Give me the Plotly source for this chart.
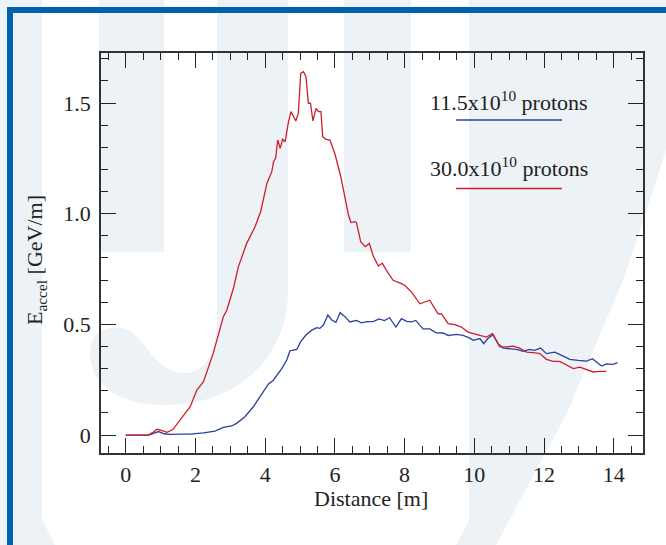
import plotly.graph_objects as go

# ---------------- data ----------------
x_low = [0.0, 0.3, 0.65, 0.8, 0.94, 1.1, 1.27, 1.6, 1.85, 2.23, 2.56, 2.8, 3.04, 3.18,
         3.42, 3.66, 3.85, 4.09, 4.24, 4.48, 4.62, 4.71, 4.81, 4.91, 5.02, 5.17, 5.34,
         5.48, 5.57, 5.67, 5.80, 5.91, 6.03, 6.15, 6.29, 6.43, 6.62, 6.76, 6.92, 7.11,
         7.27, 7.42, 7.57, 7.75, 7.91, 8.06, 8.20, 8.32, 8.53, 8.72, 8.91, 9.10, 9.25,
         9.49, 9.68, 9.87, 9.97, 10.16, 10.27, 10.39, 10.54, 10.68, 10.83, 11.02, 11.21,
         11.40, 11.59, 11.73, 11.90, 12.07, 12.31, 12.55, 12.74, 12.98, 13.22, 13.39,
         13.50, 13.65, 13.79, 13.98, 14.11]
e_low = [0.0, 0.0, 0.0, 0.008, 0.016, 0.006, 0.003, 0.004, 0.004, 0.010, 0.018, 0.035,
         0.041, 0.053, 0.083, 0.128, 0.173, 0.230, 0.249, 0.301, 0.339, 0.381, 0.384,
         0.387, 0.422, 0.452, 0.474, 0.485, 0.482, 0.497, 0.542, 0.520, 0.509, 0.553,
         0.535, 0.511, 0.518, 0.507, 0.512, 0.514, 0.525, 0.517, 0.530, 0.488, 0.526,
         0.514, 0.511, 0.518, 0.480, 0.480, 0.462, 0.461, 0.450, 0.455, 0.450, 0.438,
         0.428, 0.436, 0.413, 0.436, 0.453, 0.413, 0.393, 0.390, 0.387, 0.378, 0.387,
         0.383, 0.393, 0.368, 0.375, 0.357, 0.342, 0.337, 0.334, 0.345, 0.330, 0.312,
         0.322, 0.319, 0.327]

x_high = [0.0, 0.3, 0.65, 0.78, 0.89, 1.0, 1.18, 1.35, 1.56, 1.85, 2.04, 2.23, 2.51, 2.80,
          2.90, 3.09, 3.23, 3.33, 3.47, 3.71, 3.87, 4.05, 4.19, 4.24, 4.30, 4.36, 4.43,
          4.50, 4.57, 4.67, 4.74, 4.88, 4.95, 5.02, 5.10, 5.17, 5.24, 5.30, 5.37, 5.46,
          5.53, 5.60, 5.65, 5.75, 5.86, 6.01, 6.17, 6.39, 6.46, 6.58, 6.62, 6.74, 6.87,
          6.99, 7.10, 7.25, 7.36, 7.47, 7.58, 7.67, 7.91, 8.01, 8.20, 8.44, 8.72, 8.96,
          9.06, 9.25, 9.44, 9.63, 9.82, 9.96, 10.16, 10.35, 10.52, 10.63, 10.73, 10.92,
          11.11, 11.30, 11.50, 11.69, 11.88, 12.07, 12.26, 12.45, 12.64, 12.84, 13.03,
          13.22, 13.41, 13.60, 13.79]
e_high = [0.0, 0.0, 0.0, 0.012, 0.026, 0.022, 0.012, 0.025, 0.068, 0.128, 0.203, 0.241,
          0.369, 0.535, 0.565, 0.663, 0.760, 0.806, 0.866, 0.941, 1.009, 1.137, 1.190,
          1.235, 1.250, 1.333, 1.295, 1.336, 1.325, 1.416, 1.461, 1.419, 1.453, 1.634,
          1.642, 1.619, 1.499, 1.499, 1.419, 1.476, 1.461, 1.461, 1.348, 1.336, 1.333,
          1.265, 1.167, 0.994, 0.960, 0.964, 0.960, 0.874, 0.851, 0.866, 0.809, 0.764,
          0.776, 0.746, 0.723, 0.699, 0.684, 0.676, 0.646, 0.593, 0.609, 0.548, 0.547,
          0.503, 0.499, 0.488, 0.465, 0.458, 0.450, 0.443, 0.458, 0.428, 0.398, 0.398,
          0.402, 0.393, 0.375, 0.372, 0.368, 0.342, 0.333, 0.333, 0.315, 0.300, 0.307,
          0.296, 0.285, 0.288, 0.288]

series_names = ["11.5x10<sup>10</sup> protons", "30.0x10<sup>10</sup> protons"]
y_tick_vals = [0, 0.5, 1.0, 1.5]
y_tick_text = ["0", "0.5", "1.0", "1.5"]
x_tick_vals = [0, 2, 4, 6, 8, 10, 12, 14]

# ---------------- layout constants ----------------
W, H = 666, 545
L, R, T, B = 101, 23, 53, 92
PW, PH = W - L - R, H - T - B
BLUE = "#2c3f9e"
RED = "#cc1f2b"
FONT = "Liberation Serif"
WM = "#edf2f7"
FRAME = "#0062ad"


def px(x):
    return (x - L) / PW


def py(y):
    return (H - B - y) / PH


def path(points, close=True):
    s = "M " + " L ".join(f"{px(a):.4f},{py(b):.4f}" for a, b in points)
    return s + (" Z" if close else "")


fig = go.Figure()
fig.add_trace(go.Scatter(x=x_low, y=e_low, mode="lines",
                         line=dict(color=BLUE, width=1.3), showlegend=False))
fig.add_trace(go.Scatter(x=x_high, y=e_high, mode="lines",
                         line=dict(color=RED, width=1.3), showlegend=False))

shapes = []
# watermark
wm_polys = [
    [(0, 0), (42, 0), (42, 519), (55, 545), (0, 545)],
    [(99, 0), (164, 0), (164, 252), (99, 252)],
    [(344, 0), (411, 0), (411, 252), (344, 252)],
    [(469, 0), (666, 0), (666, 150), (645, 215), (623, 280), (567, 413), (496, 545),
     (456, 545), (469, 520)],
]
for poly in wm_polys:
    shapes.append(dict(type="path", xref="paper", yref="paper", path=path(poly),
                       fillcolor=WM, line=dict(width=0), layer="below"))
# U bowl
u = (f"M {px(217):.4f},{py(0):.4f} L {px(288):.4f},{py(0):.4f} L {px(288):.4f},{py(290):.4f} "
     f"C {px(288):.4f},{py(360):.4f} {px(235):.4f},{py(405):.4f} {px(165):.4f},{py(405):.4f} "
     f"C {px(118):.4f},{py(405):.4f} {px(90):.4f},{py(385):.4f} {px(90):.4f},{py(352):.4f} "
     f"C {px(90):.4f},{py(333):.4f} {px(105):.4f},{py(326):.4f} {px(122):.4f},{py(328):.4f} "
     f"C {px(145):.4f},{py(332):.4f} {px(152):.4f},{py(373):.4f} {px(185):.4f},{py(373):.4f} "
     f"C {px(207):.4f},{py(373):.4f} {px(217):.4f},{py(350):.4f} {px(217):.4f},{py(318):.4f} Z")
shapes.append(dict(type="path", xref="paper", yref="paper", path=u,
                   fillcolor=WM, line=dict(width=0), layer="below"))
# blue frame
shapes.append(dict(type="rect", xref="paper", yref="paper", x0=px(7), x1=px(13), y0=py(7), y1=py(545),
                   fillcolor=FRAME, line=dict(width=0), layer="below"))
shapes.append(dict(type="rect", xref="paper", yref="paper", x0=px(7), x1=px(666), y0=py(7), y1=py(13),
                   fillcolor=FRAME, line=dict(width=0), layer="below"))
# legend lines
for yy, col in [(120, BLUE), (188.5, RED)]:
    shapes.append(dict(type="line", xref="paper", yref="paper", x0=px(456), x1=px(562),
                       y0=py(yy), y1=py(yy), line=dict(color=col, width=1.3)))

annotations = [
    dict(text=series_names[0], xref="paper", yref="paper", x=px(509), y=py(101),
         showarrow=False, xanchor="center", yanchor="middle",
         font=dict(family=FONT, size=22, color="#222")),
    dict(text=series_names[1], xref="paper", yref="paper", x=px(509), y=py(167),
         showarrow=False, xanchor="center", yanchor="middle",
         font=dict(family=FONT, size=22, color="#222")),
    dict(text="E<sub>accel</sub> [GeV/m]", xref="paper", yref="paper", x=px(36), y=py(260),
         textangle=-90, showarrow=False, xanchor="center", yanchor="middle",
         font=dict(family=FONT, size=22, color="#222")),
    dict(text="Distance [m]", xref="paper", yref="paper", x=px(371), y=py(498),
         showarrow=False, xanchor="center", yanchor="middle",
         font=dict(family=FONT, size=22, color="#222")),
]

axis_common = dict(showline=True, linecolor="#333", linewidth=1.5, mirror="allticks",
                   ticks="inside", ticklen=15, tickwidth=1.3, tickcolor="#222",
                   showgrid=False, zeroline=False,
                   tickfont=dict(family=FONT, size=22, color="#222"))

fig.update_layout(
    width=W, height=H, autosize=False,
    margin=dict(l=L, r=R, t=T, b=B, pad=0),
    paper_bgcolor="white", plot_bgcolor="rgba(0,0,0,0)",
    shapes=shapes, annotations=annotations, showlegend=False,
    xaxis=dict(range=[-0.71, 14.84], tickvals=x_tick_vals,
               minor=dict(dtick=0.5, tick0=0, ticks="inside", ticklen=7, tickwidth=1.3,
                          tickcolor="#222", showgrid=False),
               ticklabelstandoff=1, **axis_common),
    yaxis=dict(range=[-0.081, 1.726], tickvals=y_tick_vals, ticktext=y_tick_text,
               minor=dict(dtick=0.1, tick0=0, ticks="inside", ticklen=7, tickwidth=1.3,
                          tickcolor="#222", showgrid=False),
               ticklabelstandoff=4, **axis_common),
)

fig.write_html("out.html")
